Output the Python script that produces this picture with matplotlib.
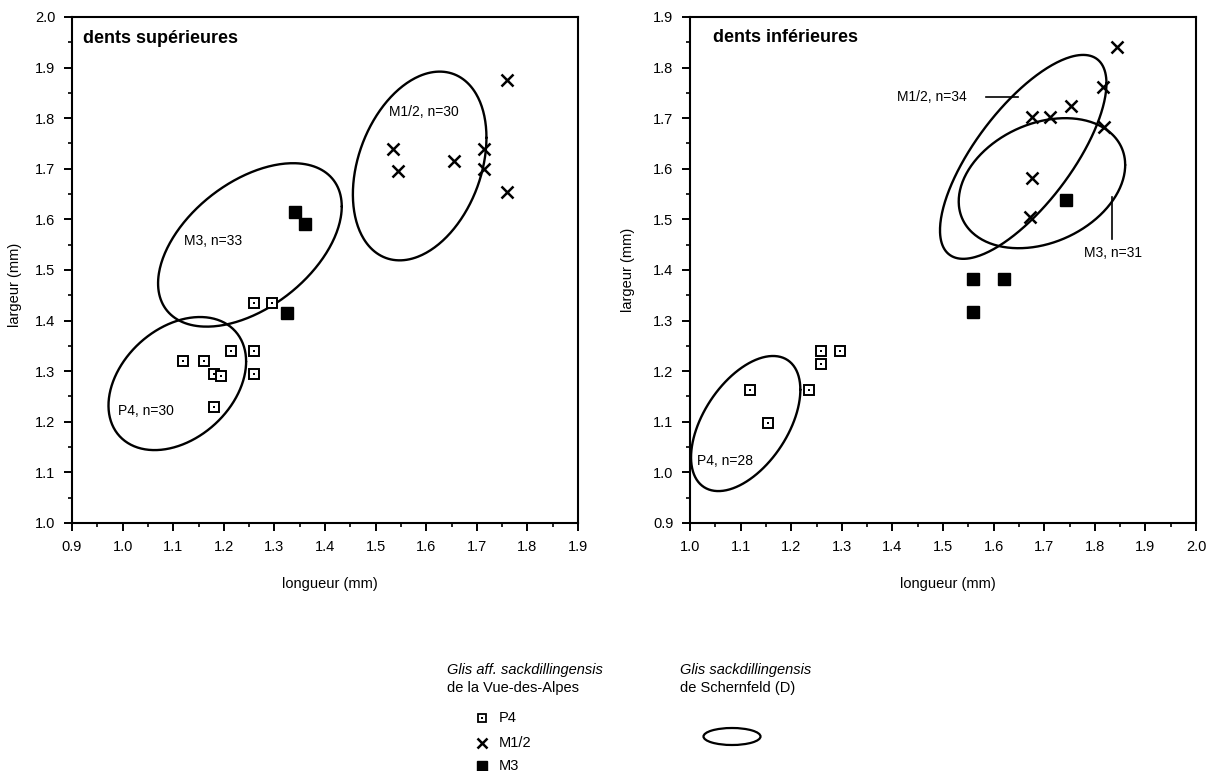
import numpy as np
import matplotlib
matplotlib.use("Agg")
import matplotlib.pyplot as plt
from matplotlib.patches import Ellipse
from matplotlib.ticker import MultipleLocator, FormatStrFormatter

plt.rcParams["font.family"] = ["Liberation Sans", "DejaVu Sans"]

# --- dents supérieures (Vue-des-Alpes) ---
sup_p4_x = [1.12, 1.16, 1.18, 1.195, 1.215, 1.26, 1.26, 1.18, 1.26, 1.295]
sup_p4_y = [1.32, 1.32, 1.295, 1.29, 1.34, 1.34, 1.295, 1.23, 1.435, 1.435]
sup_m12_x = [1.535, 1.545, 1.655, 1.715, 1.715, 1.76, 1.76]
sup_m12_y = [1.74, 1.695, 1.715, 1.74, 1.70, 1.875, 1.655]
sup_m3_x = [1.34, 1.36, 1.325]
sup_m3_y = [1.615, 1.59, 1.415]

# --- dents inférieures (Vue-des-Alpes) ---
inf_p4_x = [1.118, 1.154, 1.236, 1.258, 1.258, 1.297]
inf_p4_y = [1.162, 1.097, 1.162, 1.215, 1.240, 1.240]
inf_m12_x = [1.675, 1.711, 1.752, 1.817, 1.844, 1.819, 1.676, 1.672]
inf_m12_y = [1.703, 1.703, 1.724, 1.761, 1.840, 1.682, 1.581, 1.504]
inf_m3_x = [1.744, 1.559, 1.621, 1.559]
inf_m3_y = [1.538, 1.383, 1.383, 1.317]

# ellipses Schernfeld: centre x, centre y, demi-étendue x, demi-étendue y,
# position relative du sommet (cos du déphasage)
sup_ell_name = ["P4, n=30", "M3, n=33", "M1/2, n=30"]
sup_ell_cx = [1.108, 1.2515, 1.587]
sup_ell_cy = [1.2755, 1.5495, 1.7055]
sup_ell_ax = [0.136, 0.1815, 0.132]
sup_ell_ay = [0.1315, 0.1615, 0.1865]
sup_ell_c = [0.33, 0.47, 0.30]

inf_ell_name = ["P4, n=28", "M1/2, n=34", "M3, n=31"]
inf_ell_cx = [1.110, 1.6585, 1.6955]
inf_ell_cy = [1.0965, 1.6235, 1.5715]
inf_ell_ax = [0.108, 0.1645, 0.1645]
inf_ell_ay = [0.1335, 0.2015, 0.1285]
inf_ell_c = [0.50, 0.72, 0.28]

INK = "black"

fig = plt.figure(figsize=(12.07, 7.71), dpi=100)
fig.patch.set_facecolor("white")
ax1 = fig.add_axes([0.0597, 0.3217, 0.4192, 0.6563])
ax2 = fig.add_axes([0.5717, 0.3217, 0.4192, 0.6563])


def draw_ellipses(ax, cx, cy, axr, ayr, cphi):
    t = np.linspace(0, 2 * np.pi, 300)
    for x0, y0, a, b, c in zip(cx, cy, axr, ayr, cphi):
        phi = np.arccos(c)
        ax.plot(x0 + a * np.cos(t), y0 + b * np.cos(t - phi),
                color=INK, lw=1.7, solid_capstyle="round")


def draw_points(ax, p4x, p4y, m12x, m12y, m3x, m3y):
    ax.plot(p4x, p4y, "s", ms=6.5, mfc="white", mec=INK, mew=1.4, ls="none")
    ax.plot(p4x, p4y, "s", ms=1.6, mfc=INK, mec=INK, mew=0, ls="none")
    ax.plot(m12x, m12y, "x", ms=8, mec=INK, mew=1.8, ls="none")
    ax.plot(m3x, m3y, "s", ms=8, mfc=INK, mec=INK, ls="none")


def style(ax, xlo, xhi, ylo, yhi):
    ax.set_xlim(xlo, xhi)
    ax.set_ylim(ylo, yhi)
    ax.xaxis.set_major_locator(MultipleLocator(0.1))
    ax.xaxis.set_minor_locator(MultipleLocator(0.05))
    ax.yaxis.set_major_locator(MultipleLocator(0.1))
    ax.yaxis.set_minor_locator(MultipleLocator(0.05))
    ax.xaxis.set_major_formatter(FormatStrFormatter("%.1f"))
    ax.yaxis.set_major_formatter(FormatStrFormatter("%.1f"))
    ax.tick_params(which="major", direction="out", length=6, width=1.4,
                   labelsize=10.5, pad=6, colors=INK)
    ax.tick_params(which="minor", direction="out", length=3, width=1.2)
    for s in ax.spines.values():
        s.set_linewidth(1.5)
        s.set_color(INK)
    ax.set_xlabel("longueur (mm)", fontsize=10.5)
    ax.set_ylabel("largeur (mm)", fontsize=10.5)
    ax.xaxis.set_label_coords(0.51, -0.107)


# panneau gauche
style(ax1, 0.9, 1.9, 1.0, 2.0)
ax1.yaxis.set_label_coords(-0.099, 0.47)
draw_ellipses(ax1, sup_ell_cx, sup_ell_cy, sup_ell_ax, sup_ell_ay, sup_ell_c)
draw_points(ax1, sup_p4_x, sup_p4_y, sup_m12_x, sup_m12_y, sup_m3_x, sup_m3_y)
ax1.text(0.922, 1.958, "dents supérieures", fontsize=13, fontweight="bold",
         ha="left", va="center")
ax1.text(0.990, 1.222, sup_ell_name[0], fontsize=10, ha="left", va="center")
ax1.text(1.122, 1.557, sup_ell_name[1], fontsize=10, ha="left", va="center")
ax1.text(1.527, 1.812, sup_ell_name[2], fontsize=10, ha="left", va="center")

# panneau droit
style(ax2, 1.0, 2.0, 0.9, 1.9)
ax2.yaxis.set_label_coords(-0.109, 0.5)
draw_ellipses(ax2, inf_ell_cx, inf_ell_cy, inf_ell_ax, inf_ell_ay, inf_ell_c)
draw_points(ax2, inf_p4_x, inf_p4_y, inf_m12_x, inf_m12_y, inf_m3_x, inf_m3_y)
ax2.text(1.045, 1.860, "dents inférieures", fontsize=13, fontweight="bold",
         ha="left", va="center")
ax2.text(1.014, 1.023, inf_ell_name[0], fontsize=10, ha="left", va="center")
ax2.text(1.409, 1.742, inf_ell_name[1], fontsize=10, ha="left", va="center")
ax2.plot([1.585, 1.648], [1.742, 1.742], color=INK, lw=1.2)
ax2.text(1.778, 1.433, inf_ell_name[2], fontsize=10, ha="left", va="center")
ax2.plot([1.833, 1.833], [1.544, 1.462], color=INK, lw=1.2)

# légende en bas (pixels de la figure, origine en haut à gauche)
W, H = 1207.0, 771.0
legax = fig.add_axes([0, 0, 1, 1], facecolor="none")
legax.set_xlim(0, W)
legax.set_ylim(H, 0)
legax.axis("off")

legax.text(447, 670, "Glis aff. sackdillingensis", fontsize=10.5,
           style="italic", ha="left", va="center")
legax.text(447, 688, "de la Vue-des-Alpes", fontsize=10.5,
           ha="left", va="center")
leg_names = ["P4", "M1/2", "M3"]
leg_y = [718, 743, 766]
legax.plot([482], [leg_y[0]], "s", ms=6, mfc="white", mec=INK, mew=1.3)
legax.plot([482], [leg_y[0]], "s", ms=1.5, mfc=INK, mec=INK, mew=0)
legax.plot([482], [leg_y[1]], "x", ms=7, mec=INK, mew=1.8)
legax.plot([482], [leg_y[2]], "s", ms=7, mfc=INK, mec=INK)
for name, yy in zip(leg_names, leg_y):
    legax.text(499, yy, name, fontsize=10.5, ha="left", va="center")

legax.text(680, 670, "Glis sackdillingensis", fontsize=10.5,
           style="italic", ha="left", va="center")
legax.text(680, 688, "de Schernfeld (D)", fontsize=10.5,
           ha="left", va="center")
legax.add_patch(Ellipse((732, 736.5), 57, 17, fill=False, ec=INK, lw=1.6))

fig.savefig("out.png", dpi=100, facecolor="white")
plt.close(fig)
